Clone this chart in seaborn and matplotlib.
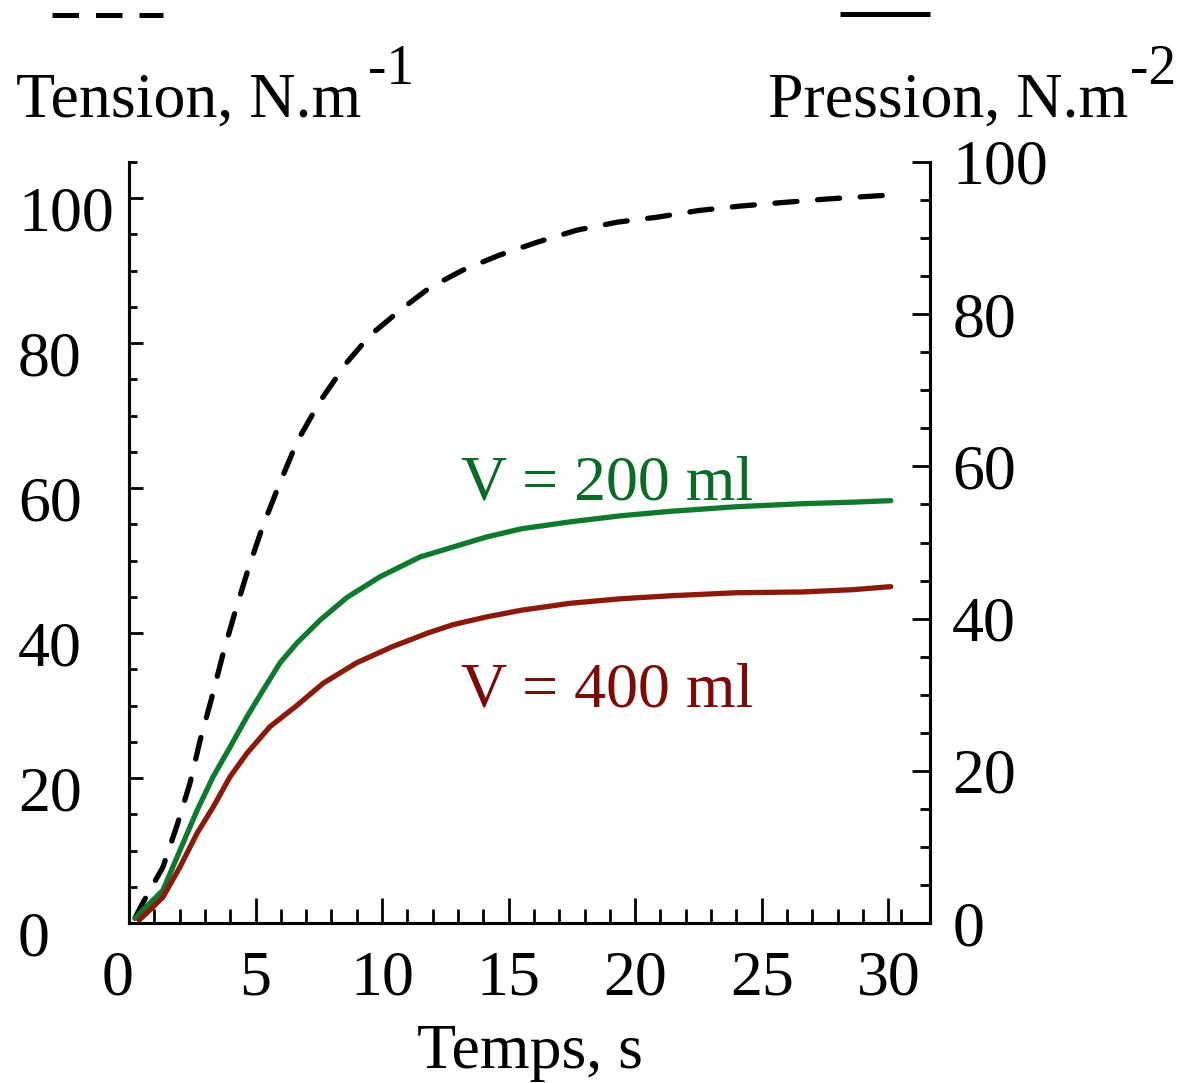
import matplotlib
matplotlib.use("Agg")
import matplotlib.pyplot as plt
import matplotlib.transforms as mtransforms
from matplotlib.lines import Line2D
from matplotlib.ticker import FixedLocator, MultipleLocator
import pandas as pd
import seaborn as sns

# Surface tension (left axis, N/m)
t_tension = [0.24, 0.55, 1.34, 1.90, 2.41, 2.81, 3.28, 3.72, 4.19, 4.70, 5.26,
             5.89, 6.64, 7.55, 8.62, 9.53, 10.8, 11.9, 13.2, 14.6, 16.1, 17.7,
             19.3, 20.9, 22.5, 24.1, 25.8, 27.6, 29.4, 29.9]
tension = [0.7, 2.8, 7.7, 13.5, 19.3, 25.2, 31.2, 37.2, 42.9, 48.7, 54.5,
           60.1, 66.4, 72.0, 77.4, 81.1, 84.8, 87.7, 90.1, 92.1, 93.9, 95.6,
           96.7, 97.4, 98.3, 98.9, 99.4, 99.9, 100.3, 100.4]

# Pressure (right axis, N/m^2) for the two volumes
t_p200 = [0.24, 0.43, 1.34, 2.02, 2.69, 3.32, 3.99, 4.66, 5.30, 5.97, 6.64,
          7.55, 8.62, 9.92, 11.5, 12.8, 14.1, 15.5, 17.4, 19.4, 21.4, 24.0,
          26.6, 28.6, 30.1]
p200 = [0.6, 1.3, 4.3, 9.6, 14.8, 19.2, 23.1, 27.1, 30.6, 34.2, 36.8,
        39.8, 42.8, 45.5, 48.1, 49.4, 50.7, 51.8, 52.7, 53.5, 54.1, 54.7,
        55.1, 55.3, 55.5]

t_p400 = [0.4, 0.7, 1.34, 2.02, 2.69, 3.32, 3.99, 4.66, 5.57, 6.64, 7.67,
          9.0, 10.4, 11.8, 12.8, 14.1, 15.5, 17.4, 19.4, 21.4, 24.0, 26.6,
          28.6, 30.1]
p400 = [0.4, 1.3, 3.4, 7.4, 11.8, 15.2, 19.2, 22.3, 25.8, 28.6, 31.5,
        34.2, 36.3, 38.1, 39.2, 40.2, 41.1, 42.0, 42.6, 43.0, 43.4, 43.5,
        43.8, 44.2]

x_ticks = [0, 5, 10, 15, 20, 25, 30]
left_ticks = [0, 20, 40, 60, 80, 100]
right_ticks = [0, 20, 40, 60, 80, 100]

green = "#0f7a2e"
green_txt = "#0a6b26"
red = "#8b1a0a"
red_txt = "#7d0a05"

sns.set_theme(style="ticks")
plt.rcParams["font.family"] = ["Liberation Serif", "DejaVu Serif"]
for key in ("axes.edgecolor", "xtick.color", "ytick.color", "text.color",
            "axes.labelcolor"):
    plt.rcParams[key] = "black"

W, H = 1181, 1083
fig = plt.figure(figsize=(W / 100, H / 100), dpi=100)
ax = fig.add_axes([129 / W, 160 / H, 801 / W, 761 / H])
ax2 = ax.twinx()

df_t = pd.DataFrame({"t": t_tension, "v": tension})
df_200 = pd.DataFrame({"t": t_p200, "v": p200})
df_400 = pd.DataFrame({"t": t_p400, "v": p400})

sns.lineplot(data=df_t, x="t", y="v", ax=ax, color="black", linewidth=3.8)
ln = ax.lines[0]
ln.set_dashes([4.2, 3.9])
ln.set_dash_capstyle("round")

sns.lineplot(data=df_200, x="t", y="v", ax=ax2, color=green, linewidth=3.8)
sns.lineplot(data=df_400, x="t", y="v", ax=ax2, color=red, linewidth=3.8)

ax.set_xlim(0, 31.65)
ax.set_ylim(0, 105)
ax2.set_ylim(0, 100)

fs = 46
ax.xaxis.set_major_locator(FixedLocator(x_ticks))
ax.xaxis.set_minor_locator(FixedLocator([i for i in range(1, 30) if i % 5] + [30.5]))
ax.yaxis.set_major_locator(FixedLocator(left_ticks))
ax.yaxis.set_minor_locator(MultipleLocator(5))
ax2.yaxis.set_major_locator(FixedLocator(right_ticks))
ax2.yaxis.set_minor_locator(MultipleLocator(5))
ax.set_xticklabels([str(v) for v in x_ticks])
ax.set_yticklabels([str(v) for v in left_ticks])
ax2.set_yticklabels([str(v) for v in right_ticks])

ax.tick_params(axis="x", which="major", direction="in", length=18, width=2,
               labelsize=fs, pad=20, top=False)
ax.tick_params(axis="x", which="minor", direction="in", length=10, width=2, top=False)
ax.tick_params(axis="y", which="major", direction="in", length=10, width=2,
               labelsize=fs, pad=80, right=False)
ax.tick_params(axis="y", which="minor", direction="in", length=6, width=2, right=False)
ax2.tick_params(axis="y", which="major", direction="in", length=13, width=2,
                labelsize=fs, pad=16)
ax2.tick_params(axis="y", which="minor", direction="in", length=7, width=2)

for a in (ax, ax2):
    a.set_xlabel("")
    a.set_ylabel("")
    a.spines["top"].set_visible(False)
    for s in a.spines.values():
        s.set_linewidth(2.2)
        s.set_color("black")

# left tick labels: flush left and a little below their ticks
shift = mtransforms.ScaledTranslation(0, -0.10, fig.dpi_scale_trans)
for lab in ax.get_yticklabels():
    lab.set_horizontalalignment("left")
    lab.set_transform(lab.get_transform() + shift)

# the "0" on the time axis sits slightly left of its tick
xl0 = ax.get_xticklabels()[0]
xl0.set_transform(xl0.get_transform()
                  + mtransforms.ScaledTranslation(-0.11, 0, fig.dpi_scale_trans))

ax.set_xlabel("Temps, s", fontsize=fs, labelpad=11)

ax2.text(13.1, 55.6, "V = 200 ml", color=green_txt, fontsize=fs,
         ha="left", va="baseline")
ax2.text(13.1, 28.4, "V = 400 ml", color=red_txt, fontsize=fs,
         ha="left", va="baseline")

# axis titles with superscript units
fig.text(16 / W, 1 - 117 / H, "Tension, N.m", fontsize=fs, ha="left", va="baseline")
fig.text(368 / W, 1 - 84 / H, "-1", fontsize=40, ha="left", va="baseline")
fig.text(768 / W, 1 - 117 / H, "Pression, N.m", fontsize=fs, ha="left", va="baseline")
fig.text(1130 / W, 1 - 84 / H, "-2", fontsize=40, ha="left", va="baseline")

# line-style keys above each axis
fig.add_artist(Line2D([52 / W, 163 / W], [1 - 15 / H, 1 - 15 / H],
                      transform=fig.transFigure, color="black", linewidth=3.6,
                      dashes=[5.3, 3.4], solid_capstyle="butt",
                      dash_capstyle="butt"))
fig.add_artist(Line2D([840 / W, 930 / W], [1 - 14 / H, 1 - 14 / H],
                      transform=fig.transFigure, color="black", linewidth=3.6,
                      solid_capstyle="butt"))

fig.savefig("out.png", dpi=100)
